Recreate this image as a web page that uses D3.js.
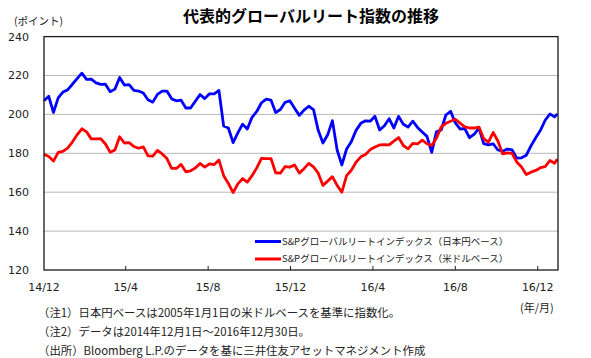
<!DOCTYPE html>
<html><head><meta charset="utf-8">
<script src="https://cdn.jsdelivr.net/npm/d3@7"></script>
<style>
html,body{margin:0;padding:0;background:#fff;}
svg{display:block;}
</style>
</head><body>
<svg id="chart" width="591" height="358"></svg>
<script>
const title = "代表的グローバルリート指数の推移";
const yUnit = "(ポイント)";
const xUnit = "(年/月)";
const seriesNames = ["S&Pグローバルリートインデックス（日本円ベース）", "S&Pグローバルリートインデックス（米ドルベース）"];
const notes = [
  "（注1）日本円ベースは2005年1月1日の米ドルベースを基準に指数化。",
  "（注2）データは2014年12月1日～2016年12月30日。",
  "（出所）Bloomberg L.P.のデータを基に三井住友アセットマネジメント作成"
];
const yTicks = [120, 140, 160, 180, 200, 220, 240];
const xTickDates = ["2014-12-01","2015-04-01","2015-08-01","2015-12-01","2016-04-01","2016-08-01","2016-12-01"];
const xTickLabels = ["14/12","15/4","15/8","15/12","16/4","16/8","16/12"];

const dates = [
"2014-12-01","2014-12-08","2014-12-15","2014-12-22","2014-12-29",
"2015-01-05","2015-01-12","2015-01-19","2015-01-26","2015-02-02","2015-02-09","2015-02-16","2015-02-23",
"2015-03-02","2015-03-09","2015-03-16","2015-03-23","2015-03-30","2015-04-06","2015-04-13","2015-04-20","2015-04-27",
"2015-05-04","2015-05-11","2015-05-18","2015-05-25","2015-06-01","2015-06-08","2015-06-15","2015-06-22","2015-06-29",
"2015-07-06","2015-07-13","2015-07-20","2015-07-27","2015-08-03","2015-08-10","2015-08-17","2015-08-24","2015-08-31",
"2015-09-07","2015-09-14","2015-09-21","2015-09-28","2015-10-05","2015-10-12","2015-10-19","2015-10-26",
"2015-11-02","2015-11-09","2015-11-16","2015-11-23","2015-11-30","2015-12-07","2015-12-14","2015-12-21","2015-12-28",
"2016-01-04","2016-01-11","2016-01-18","2016-01-25","2016-02-01","2016-02-08","2016-02-15","2016-02-22","2016-02-29",
"2016-03-07","2016-03-14","2016-03-21","2016-03-28","2016-04-04","2016-04-11","2016-04-18","2016-04-25",
"2016-05-02","2016-05-09","2016-05-16","2016-05-23","2016-05-30","2016-06-06","2016-06-13","2016-06-20","2016-06-27",
"2016-07-04","2016-07-11","2016-07-18","2016-07-25","2016-08-01","2016-08-08","2016-08-15","2016-08-22","2016-08-29",
"2016-09-05","2016-09-12","2016-09-19","2016-09-26","2016-10-03","2016-10-10","2016-10-17","2016-10-24","2016-10-31",
"2016-11-07","2016-11-14","2016-11-21","2016-11-28","2016-12-05","2016-12-12","2016-12-19","2016-12-26","2016-12-30"
];
const jpyValues = [
207,209.3,201,208.5,211.5,212.6,215.5,218.4,221.2,218,218.1,216.2,215.4,215.5,211.7,213,219,215.1,215.3,212.3,212,211,207.5,206.3,210.3,212,212,
208,207,207.3,203.3,203.3,206.8,210.2,208.1,210.6,210.6,212.3,194,193,185.5,190.5,195,192.5,198.5,201.5,206,207.9,207.4,201,202.5,206.2,207,203.2,199.5,202.2,
204.2,202.5,191.8,185.3,189.5,196.8,181.7,174,182.2,186,191.8,195.4,196.7,196.5,199,192,194.2,197.8,193,199,194.9,193.5,196.5,193.3,191,188.7,180.5,
191,192,199.7,201.6,195.6,192.5,192.7,188,189.8,193,185,184.3,184.9,181.7,181.1,182.2,181.7,177.5,177.7,179,183.8,188,191.8,197,200.2,198.7,200.3
];
const usdValues = [
179.5,178.3,176,180.5,181,182.7,185.8,189.5,192.6,191,187.4,187.4,187.5,184.8,180.5,181.7,188.5,185.3,185.5,183.5,182.6,183.3,178.7,178.5,181.5,179.7,177.3,
172.3,172.2,174.3,170.5,171,172.4,174.8,172.9,174.6,174.2,176.5,168.5,164.5,159.8,164.3,167,165.2,168.5,172.5,177.4,177.3,177.3,170,169.8,173.2,172.9,174,169.8,172.1,
174.8,173,169.8,163.5,165.7,168,163.5,160,168.5,171.3,175.4,178.2,179.4,181.9,183.2,184.3,184.4,184.3,186.3,188.1,184,182.3,185.1,184.8,186.8,184.9,184,
187.7,193.5,195.4,196.5,197.5,195.5,193.6,193,193,193.5,187.5,185.7,190.7,186.3,179.7,180.2,180,175.5,173,169.1,170.3,171.2,172.6,173.2,176.3,174.9,177
];
const colors = ["#0000ff", "#ff0000"];

const parse = d3.timeParse("%Y-%m-%d");
const svg = d3.select("#chart");
const L = 44, R = 558, T = 36.6, B = 270;
const x = d3.scaleTime().domain([parse("2014-12-01"), parse("2016-12-31")]).range([L, R]);
const y = d3.scaleLinear().domain([120, 240]).range([B, T]);
const numFont = "'DejaVu Sans', Verdana, sans-serif";
const jpFont = "'Noto Sans CJK JP', sans-serif";

// title
svg.append("text").attr("x", 311).attr("y", 22).attr("text-anchor", "middle")
  .attr("font-family", jpFont).attr("font-weight", "bold").attr("font-size", 16).attr("fill", "#000").text(title);
svg.append("text").attr("x", 14).attr("y", 25)
  .attr("font-family", jpFont).attr("font-size", 10.5).attr("fill", "#222").text(yUnit);

// gridlines
svg.append("g").selectAll("line").data(yTicks.filter(t => t > 120 && t < 240)).join("line")
  .attr("x1", L).attr("x2", R).attr("y1", d => y(d)).attr("y2", d => y(d))
  .attr("stroke", "#b8b8b8").attr("stroke-width", 1);

// y labels
svg.append("g").selectAll("text").data(yTicks).join("text")
  .attr("x", 29).attr("y", d => y(d)).attr("dy", "0.36em").attr("text-anchor", "end")
  .attr("font-family", numFont).attr("font-size", 11).attr("fill", "#222").text(d => d);

// x ticks + labels
const xt = xTickDates.map(parse);
svg.append("g").selectAll("line").data(xt.slice(1)).join("line")
  .attr("x1", d => x(d)).attr("x2", d => x(d)).attr("y1", B).attr("y2", B - 4)
  .attr("stroke", "#222").attr("stroke-width", 1);
svg.append("g").selectAll("text").data(xt).join("text")
  .attr("x", d => x(d)).attr("y", 287).attr("dy", "0.36em").attr("text-anchor", "middle")
  .attr("font-family", numFont).attr("font-size", 11).attr("fill", "#222").text((d, i) => xTickLabels[i]);

// lines
const pd = dates.map(parse);
const line = d3.line().x((d, i) => x(pd[i])).y(d => y(d)).curve(d3.curveLinear);
[jpyValues, usdValues].forEach((vals, i) => {
  svg.append("path").datum(vals).attr("d", line).attr("fill", "none")
    .attr("stroke", colors[i]).attr("stroke-width", 2.8).attr("stroke-linejoin", "round");
});

// frame
svg.append("rect").attr("x", L).attr("y", T).attr("width", R - L).attr("height", B - T)
  .attr("fill", "none").attr("stroke", "#1a1a1a").attr("stroke-width", 1.3);

// legend
seriesNames.forEach((n, i) => {
  const ly = 241.5 + i * 17.5;
  svg.append("line").attr("x1", 255).attr("x2", 281).attr("y1", ly).attr("y2", ly)
    .attr("stroke", colors[i]).attr("stroke-width", 3);
  svg.append("text").attr("x", 282).attr("y", ly).attr("dy", "0.36em")
    .attr("font-family", jpFont).attr("font-size", 9.5).attr("fill", "#222").text(n);
});

// x unit
svg.append("text").attr("x", 520).attr("y", 308).attr("dy", "0.36em")
  .attr("font-family", jpFont).attr("font-size", 11).attr("fill", "#222").text(xUnit);

// notes
notes.forEach((n, i) => {
  svg.append("text").attr("x", 38).attr("y", 313 + i * 19).attr("dy", "0.36em")
    .attr("font-family", jpFont).attr("font-size", 11.4).attr("fill", "#222").text(n);
});
</script>
</body></html>
